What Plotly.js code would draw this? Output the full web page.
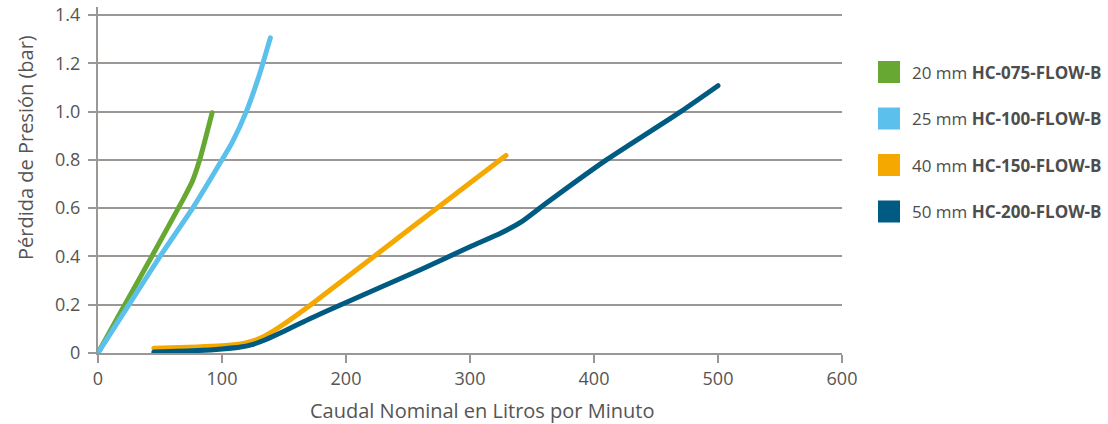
<!DOCTYPE html>
<html><head><meta charset="utf-8">
<script src="https://cdn.plot.ly/plotly-3.0.1.min.js"></script>
<style>html,body{margin:0;padding:0;background:#fff}#chart{width:1108px;height:424px}
path.js-line{stroke-linecap:round;stroke-linejoin:round}</style>
</head><body><div id="chart"></div>
<script>
// ---- data ----
const seriesNames = ['20 mm <b>HC-075-FLOW-B</b>', '25 mm <b>HC-100-FLOW-B</b>', '40 mm <b>HC-150-FLOW-B</b>', '50 mm <b>HC-200-FLOW-B</b>'];
const seriesColors = ['#67a833', '#5cc0ec', '#f5a800', '#005b82'];
const x20 = [0, 20, 45, 68, 76, 82, 92];
const y20 = [0, 0.185, 0.415, 0.63, 0.71, 0.8, 0.995];
const x25 = [0, 25, 50, 77, 100, 108, 120, 130, 139];
const y25 = [0, 0.2, 0.4, 0.605, 0.8, 0.87, 1.005, 1.15, 1.305];
const x40 = [45, 80, 100, 115, 125, 135, 150, 173, 250, 329];
const y40 = [0.02, 0.025, 0.03, 0.037, 0.05, 0.072, 0.12, 0.205, 0.508, 0.818];
const x50 = [45, 80, 100, 115, 125, 135, 150, 170, 195, 260, 300, 325, 342, 360, 410, 470, 500];
const y50 = [0.004, 0.01, 0.017, 0.025, 0.036, 0.055, 0.09, 0.14, 0.198, 0.345, 0.44, 0.497, 0.545, 0.615, 0.80, 1.0, 1.107];
const xTicks = [0, 100, 200, 300, 400, 500, 600];
const yTicks = [0, 0.2, 0.4, 0.6, 0.8, 1.0, 1.2, 1.4];
const yTickText = ['0', '0.2', '0.4', '0.6', '0.8', '1.0', '1.2', '1.4'];
const xTitle = 'Caudal Nominal en Litros por Minuto';
const yTitle = 'Pérdida de Presión (bar)';

// ---- layout helpers ----
const M = {l: 98, r: 266, t: 7, b: 71};
const W = 1108, H = 424;
const pw = W - M.l - M.r, ph = H - M.t - M.b;
const px = v => (v - M.l) / pw;
const py = v => (H - M.b - v) / ph;
const gridCol = '#9b9794';
const font = '"Open Sans", sans-serif';
const txt = '#555555';

const xs = [x20, x25, x40, x50], ys = [y20, y25, y40, y50];
const traces = xs.map((x, i) => ({
  x: x, y: ys[i], type: 'scatter', mode: 'lines', name: seriesNames[i],
  line: {color: seriesColors[i], width: 5, shape: 'spline', smoothing: 0.6},
  showlegend: false, hoverinfo: 'x+y'
}));

const shapes = [], annotations = [];
seriesNames.forEach((n, i) => {
  const cy = 72 + i * 46.5;
  shapes.push({type: 'rect', xref: 'paper', yref: 'paper',
    x0: px(878), x1: px(900), y0: py(cy + 11), y1: py(cy - 11),
    fillcolor: seriesColors[i], line: {width: 0}});
  annotations.push({xref: 'paper', yref: 'paper', x: px(910), y: py(cy),
    xanchor: 'left', yanchor: 'middle', showarrow: false, text: n,
    font: {family: font, size: 17, color: '#4d4d4d'}});
});
// axis titles (placed as in the reference, off-centre)
annotations.push({xref: 'paper', yref: 'paper', x: px(482), y: py(410),
  xanchor: 'center', yanchor: 'middle', showarrow: false, text: xTitle,
  font: {family: font, size: 20, color: txt}});
annotations.push({xref: 'paper', yref: 'paper', x: px(25), y: py(148),
  xanchor: 'center', yanchor: 'middle', showarrow: false, text: yTitle, textangle: -90,
  font: {family: font, size: 20, color: txt}});

const layout = {
  width: W, height: H, margin: M, paper_bgcolor: '#fff', plot_bgcolor: '#fff',
  showlegend: false, shapes: shapes, annotations: annotations,
  font: {family: font, color: txt},
  xaxis: {range: [0, 600], tickvals: xTicks, ticktext: xTicks.map(String),
    showgrid: false, zeroline: false, showline: true, linecolor: gridCol, linewidth: 2,
    ticks: 'outside', ticklen: 8, tickwidth: 2, tickcolor: gridCol,
    tickfont: {family: font, size: 18, color: txt}},
  yaxis: {range: [0, 1.433], tickvals: yTicks, ticktext: yTickText,
    showgrid: true, gridcolor: gridCol, gridwidth: 2, zeroline: false,
    showline: true, linecolor: gridCol, linewidth: 2,
    ticks: 'outside', ticklen: 8, tickwidth: 2, tickcolor: gridCol, ticklabelstandoff: 4,
    tickfont: {family: font, size: 18, color: txt}}
};
Plotly.newPlot('chart', traces, layout, {displayModeBar: false, staticPlot: true});
</script></body></html>
